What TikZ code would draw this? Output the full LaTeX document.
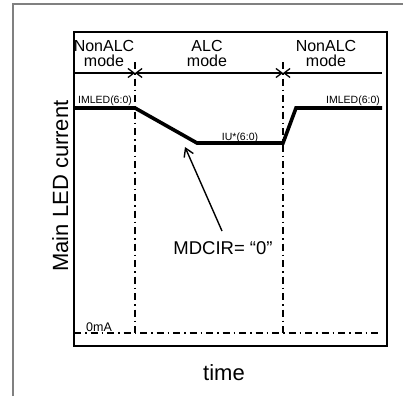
\documentclass[tikz,border=0pt]{standalone}
\usepackage{fontspec}
\setmainfont{Liberation Sans}
\usetikzlibrary{arrows.meta}
\tikzset{
  frameline/.style={draw=black!50, line width=1.4pt},
  boxline/.style={draw=black, line width=2.3pt},
  curveline/.style={draw=black, line width=3.6pt, line join=miter},
  modeline/.style={draw=black, line width=1.6pt},
  sepline/.style={draw=black, line width=1.5pt, dash pattern=on 7pt off 4pt on 1.5pt off 4pt},
  barbtip/.tip={Straight Barb[length=6pt, width=9pt, line width=1.3pt]},
  bigbarb/.tip={Straight Barb[length=8pt, width=10pt, line width=1.4pt]},
  modelabel/.style={font=\fontsize{16}{15.5}\selectfont, align=center, inner sep=0pt, anchor=north},
  smalllabel/.style={font=\fontsize{10.5}{12}\selectfont, inner sep=0pt, anchor=base},
  biglabel/.style={font=\fontsize{22}{26}\selectfont, inner sep=0pt, anchor=base},
}
\begin{document}
\begin{tikzpicture}[x=1pt, y=-1pt]
\useasboundingbox (0,0) rectangle (403,396);
% outer frame (top and left edges only)
\draw[frameline] (13,396) -- (13,4) -- (403,4);
% inner box
\draw[boxline] (74,32) rectangle (387,346);
% coordinates
\coordinate (mL) at (74,73);
\coordinate (m1) at (135,73);
\coordinate (m2) at (283,73);
\coordinate (mR) at (382,73);
\coordinate (v1t) at (135,62);
\coordinate (v1b) at (135,334);
\coordinate (v2t) at (283,62);
\coordinate (v2b) at (283,334);
\coordinate (zL) at (74,333);
\coordinate (zR) at (378,333);
\coordinate (c0) at (74,108);
\coordinate (c1) at (135,108);
\coordinate (c2) at (197,143);
\coordinate (c3) at (283,143);
\coordinate (c4) at (296,108);
\coordinate (c5) at (382,108);
\coordinate (atail) at (222,231);
\coordinate (ahead) at (185,147);
% mode labels
\node[modelabel] (lab1) at (104,40) {NonALC\\mode};
\node[modelabel] (lab2) at (207,40) {ALC\\mode};
\node[modelabel] (lab3) at (326,40) {NonALC\\mode};
% mode line with arrows
\draw[modeline, -{barbtip}] (mL) -- (m1);
\draw[modeline, {barbtip}-{barbtip}] (m1) -- (m2);
\draw[modeline, {barbtip}-] (m2) -- (mR);
% separators
\draw[sepline] (v1t) -- (v1b);
\draw[sepline] (v2t) -- (v2b);
\draw[sepline] (zL) -- (zR);
% current curve
\draw[curveline] (c0) -- (c1) -- (c2) -- (c3) -- (c4) -- (c5);
% small labels
\node[smalllabel] (imled1) at (105,103) {IMLED(6:0)};
\node[smalllabel] (imled2) at (353,103) {IMLED(6:0)};
\node[smalllabel] (iu) at (240,140) {IU*(6:0)};
\node[smalllabel, font=\fontsize{12.5}{14}\selectfont] (zero) at (99,331) {0mA};
% MDCIR label and arrow
\node[font=\fontsize{18.5}{22}\selectfont, inner sep=0pt, anchor=base] (mdcir) at (223,254) {MDCIR= “0”};
\draw[line width=1.4pt, -{bigbarb}] (atail) -- (ahead);
% axis labels
\node[biglabel, rotate=90] (ylab) at (68,186) {Main LED current};
\node[biglabel] (xlab) at (224,380) {time};
\end{tikzpicture}
\end{document}
